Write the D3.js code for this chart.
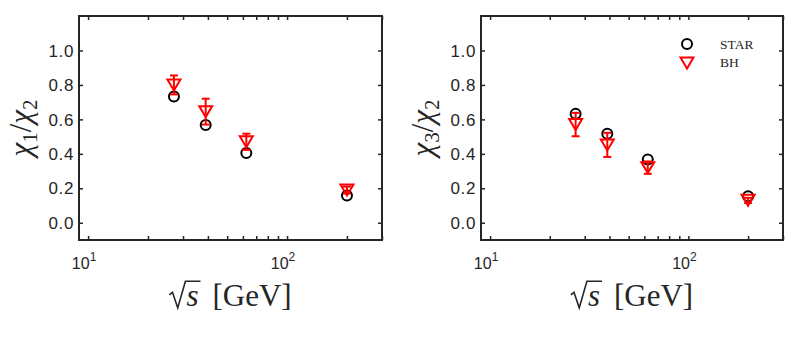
<!DOCTYPE html>
<html>
<head>
<meta charset="utf-8">
<script src="https://cdn.jsdelivr.net/npm/d3@7"></script>
<style>
  body { margin: 0; background: #fff; }
  svg { display: block; }
</style>
</head>
<body>
<div id="chart"></div>
<script>
// collision energies (GeV)
var energies = [27, 39, 62.4, 200];

// left panel: chi1/chi2
var starR12 = [0.733, 0.568, 0.405, 0.158];
var bhR12 = [0.80, 0.645, 0.47, 0.19];
var bhR12Err = [0.055, 0.075, 0.047, 0.02];

// right panel: chi3/chi2
var starR32 = [0.632, 0.517, 0.367, 0.154];
var bhR32 = [0.57, 0.452, 0.32, 0.13];
var bhR32Err = [0.068, 0.07, 0.036, 0.015];

var yTicks = [0, 0.2, 0.4, 0.6, 0.8, 1.0];
var xMajor = [10, 100];
var xMinor = [20, 30, 40, 50, 60, 70, 80, 90, 200, 300];
var legendLabels = ["STAR", "BH"];

var width = 804, height = 337;
var plotTop = 16, plotBottom = 240;
var axisColor = "#262626";

var svg = d3.select("#chart").append("svg")
    .attr("width", width)
    .attr("height", height);

function drawPanel(left, right, star, bh, bhErr, sub, showLegend) {
  var x = d3.scaleLog().domain([9, 300]).range([left, right]);
  var y = d3.scaleLinear().domain([-0.1, 1.2]).range([plotBottom, plotTop]);
  var g = svg.append("g");

  // ticks, inward on all four sides
  function ticks(axis, scale, vals, size) {
    return axis(scale).tickValues(vals).tickSize(size).tickFormat("");
  }
  g.append("g").attr("transform", "translate(0," + plotBottom + ")")
      .call(ticks(d3.axisBottom, x, xMajor.concat(xMinor), -4));
  g.append("g").attr("transform", "translate(0," + plotTop + ")")
      .call(ticks(d3.axisTop, x, xMajor.concat(xMinor), -4));
  g.append("g").attr("transform", "translate(" + left + ",0)")
      .call(ticks(d3.axisLeft, y, yTicks, -4));
  g.append("g").attr("transform", "translate(" + right + ",0)")
      .call(ticks(d3.axisRight, y, yTicks, -4));
  g.selectAll(".domain").remove();
  g.selectAll(".tick line").attr("stroke", axisColor).attr("stroke-width", 1.5);

  g.append("rect")
      .attr("x", left).attr("y", plotTop)
      .attr("width", right - left).attr("height", plotBottom - plotTop)
      .attr("fill", "none")
      .attr("stroke", axisColor)
      .attr("stroke-width", 2);

  // y tick labels
  g.selectAll(".ylab").data(yTicks).enter().append("text")
      .attr("x", left - 5)
      .attr("y", function(d) { return y(d); })
      .attr("dy", "0.36em")
      .attr("text-anchor", "end")
      .attr("font-family", "Liberation Sans, Arial, sans-serif")
      .attr("font-size", 17)
      .attr("letter-spacing", 0.6)
      .attr("fill", axisColor)
      .text(function(d) { return d3.format(".1f")(d); });

  // x tick labels 10^n
  var xl = g.selectAll(".xlab").data(xMajor).enter().append("text")
      .attr("x", function(d) { return x(d) - 4; })
      .attr("y", 269)
      .attr("text-anchor", "middle")
      .attr("font-family", "Liberation Sans, Arial, sans-serif")
      .attr("font-size", 16)
      .attr("fill", axisColor);
  xl.append("tspan").text("10");
  xl.append("tspan").attr("dy", -8).attr("font-size", 12)
      .text(function(d) { return Math.round(Math.log10(d)); });

  // x axis title: radical drawn as a path, then "s [GeV]" as text
  var cx = (left + right) / 2, fs = 31, base = 306;
  var xt = g.append("text")
      .attr("y", base)
      .attr("font-family", "Liberation Serif, Times New Roman, serif")
      .attr("font-size", fs)
      .attr("fill", axisColor);
  var ess = xt.append("tspan").attr("font-style", "italic").text("s");
  xt.append("tspan").text("\u2009 [GeV]");
  var rw = fs * 0.55,
      tw = xt.node().getComputedTextLength(),
      sw = ess.node().getComputedTextLength();
  var xs = cx - (rw + tw) / 2;
  xt.attr("x", xs + rw);
  var barY = base - fs * 0.8;
  g.append("path")
      .attr("d", "M" + xs + "," + (base - fs * 0.36) +
                 "L" + (xs + fs * 0.1) + "," + (base - fs * 0.44) +
                 "L" + (xs + fs * 0.27) + "," + (base + fs * 0.06) +
                 "L" + (xs + rw - 1) + "," + barY +
                 "L" + (xs + rw + sw + 2) + "," + barY)
      .attr("fill", "none")
      .attr("stroke", axisColor)
      .attr("stroke-width", 1.6)
      .attr("stroke-linejoin", "miter");

  // y axis title
  var yt = g.append("text")
      .attr("transform", "translate(" + (left - 48) + "," + ((plotTop + plotBottom) / 2) + ") rotate(-90)")
      .attr("text-anchor", "middle")
      .attr("font-family", "Liberation Serif, Times New Roman, serif")
      .attr("font-size", 31)
      .attr("fill", axisColor);
  yt.append("tspan").attr("font-style", "italic").text("\u03C7");
  yt.append("tspan").attr("font-size", 21).attr("dy", 6).text(sub);
  yt.append("tspan").attr("dy", -6).text("/");
  yt.append("tspan").attr("font-style", "italic").text("\u03C7");
  yt.append("tspan").attr("font-size", 21).attr("dy", 6).text("2");

  // STAR circles
  g.selectAll(".star").data(energies).enter().append("circle")
      .attr("cx", function(d) { return x(d); })
      .attr("cy", function(d, i) { return y(star[i]); })
      .attr("r", 5)
      .attr("fill", "none")
      .attr("stroke", "#000")
      .attr("stroke-width", 2);

  // BH error bars
  var eb = g.selectAll(".err").data(energies).enter().append("g")
      .attr("stroke", "#ff0000").attr("stroke-width", 2).attr("fill", "none");
  eb.append("line")
      .attr("x1", function(d) { return x(d); })
      .attr("x2", function(d) { return x(d); })
      .attr("y1", function(d, i) { return y(bh[i] - bhErr[i]); })
      .attr("y2", function(d, i) { return y(bh[i] + bhErr[i]); });
  [-1, 1].forEach(function(s) {
    eb.append("line")
        .attr("x1", function(d) { return x(d) - 4; })
        .attr("x2", function(d) { return x(d) + 4; })
        .attr("y1", function(d, i) { return y(bh[i] + s * bhErr[i]); })
        .attr("y2", function(d, i) { return y(bh[i] + s * bhErr[i]); });
  });

  // BH triangles
  var tri = "M-6.5,-5.5L6.5,-5.5L0,5.5Z";
  g.selectAll(".bh").data(energies).enter().append("path")
      .attr("d", tri)
      .attr("transform", function(d, i) { return "translate(" + x(d) + "," + y(bh[i]) + ")"; })
      .attr("fill", "none")
      .attr("stroke", "#ff0000")
      .attr("stroke-width", 2);

  if (showLegend) {
    var lg = g.append("g");
    lg.append("circle").attr("cx", 687).attr("cy", 44).attr("r", 5)
        .attr("fill", "none").attr("stroke", "#000").attr("stroke-width", 2);
    lg.append("path").attr("d", tri).attr("transform", "translate(687,63)")
        .attr("fill", "none").attr("stroke", "#ff0000").attr("stroke-width", 2);
    lg.selectAll("text").data(legendLabels).enter().append("text")
        .attr("x", 720)
        .attr("y", function(d, i) { return 48.5 + i * 18.5; })
        .attr("font-family", "Liberation Serif, Times New Roman, serif")
        .attr("font-size", 13.5)
        .attr("fill", axisColor)
        .text(function(d) { return d; });
  }
}

drawPanel(79, 382, starR12, bhR12, bhR12Err, "1", false);
drawPanel(481, 783, starR32, bhR32, bhR32Err, "3", true);
</script>
</body>
</html>
